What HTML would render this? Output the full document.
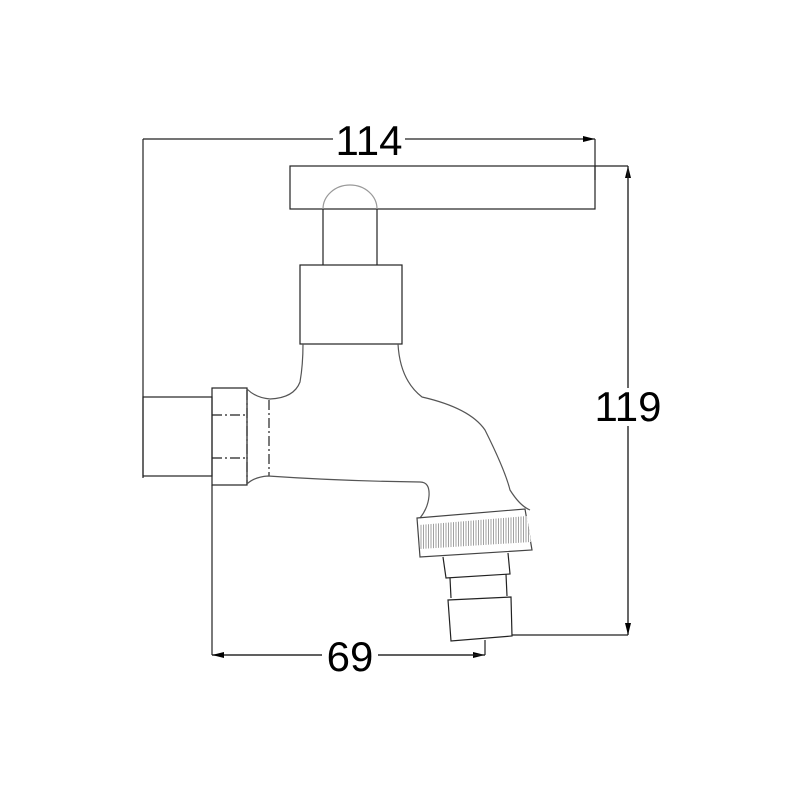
<!DOCTYPE html>
<html><head><style>body{margin:0;background:#fff}svg{display:block}</style></head><body>
<svg width="800" height="800" viewBox="0 0 800 800" xmlns="http://www.w3.org/2000/svg">
<defs>
<marker id="a" viewBox="0 0 12 6" refX="12" refY="3" markerWidth="12" markerHeight="6" orient="auto" markerUnits="userSpaceOnUse"><path d="M0,0L12,3L0,6Z" fill="#000"/></marker>
<pattern id="k" width="2.5" height="10" patternUnits="userSpaceOnUse"><rect width="2.5" height="10" fill="#fff"/><line x1="1" y1="0" x2="1" y2="10" stroke="#888" stroke-width="0.8"/></pattern>
</defs>
<g fill="none" stroke="#222" stroke-width="1.2">
<!-- top dimension -->
<line x1="143" y1="139" x2="595" y2="139" marker-end="url(#a)"/>
<line x1="143" y1="139" x2="143" y2="478"/>
<line x1="595" y1="139" x2="595" y2="180"/>
<!-- right dimension -->
<line x1="595" y1="166" x2="628" y2="166"/>
<line x1="628" y1="635" x2="628" y2="166" marker-end="url(#a)"/>
<line x1="628" y1="166" x2="628" y2="635" marker-end="url(#a)"/>
<line x1="512" y1="635" x2="628" y2="635"/>
<!-- bottom dimension -->
<line x1="212" y1="485" x2="212" y2="655"/>
<line x1="485" y1="640" x2="485" y2="655"/>
<line x1="212" y1="655" x2="485" y2="655" marker-end="url(#a)"/>
<line x1="485" y1="655" x2="212" y2="655" marker-end="url(#a)"/>
<!-- handle -->
<rect x="290" y="166" width="305" height="43"/>
<path d="M323,265V209M377,209V265"/>
<path d="M323,209A27,24 0 0 1 377,209" stroke="#999"/>
<rect x="300" y="265" width="102" height="79"/>
<!-- pipe and nut -->
<rect x="143" y="397" width="69" height="79"/>
<rect x="212" y="388" width="35" height="97"/>
<g stroke-dasharray="10,3,2,3"><line x1="212" y1="415" x2="247" y2="415"/><line x1="212" y1="458" x2="247" y2="458"/><line x1="247" y1="390" x2="247" y2="484"/><line x1="269" y1="400" x2="269" y2="476"/></g>
<!-- body -->
<path d="M247,389Q256,398 270,399Q294,398 300,382Q303,365 303,344" stroke="#555"/>
<path d="M398,344Q400,380 422,397Q470,408 485,430Q505,470 510,490Q520,506 530,510" stroke="#555"/>
<path d="M247,484Q254,477 268,476Q340,481 420,482Q430,482 429,496Q428,508 420,518" stroke="#555"/>
<!-- coupling -->
<path d="M417,518L525,509L532,550L420,557Z" stroke="#444"/>
<path d="M419,525L527,516L531,542L420,549Z" fill="url(#k)" stroke="none"/>
<path d="M443,557L446,578L510,574L508,553"/>
<path d="M450,578L451,598M506,574L507,596"/>
<path d="M448,600L511,597L512,636L451,641Z"/>
</g>
<g font-family="Liberation Sans, sans-serif" font-size="42" fill="#000" text-anchor="middle">
<rect x="333" y="120" width="72" height="38" fill="#fff"/>
<text x="369" y="155">114</text>
<rect x="592" y="388" width="72" height="38" fill="#fff"/>
<text x="628" y="421">119</text>
<rect x="322" y="636" width="56" height="38" fill="#fff"/>
<text x="350" y="671">69</text>
</g>
</svg>
</body></html>
